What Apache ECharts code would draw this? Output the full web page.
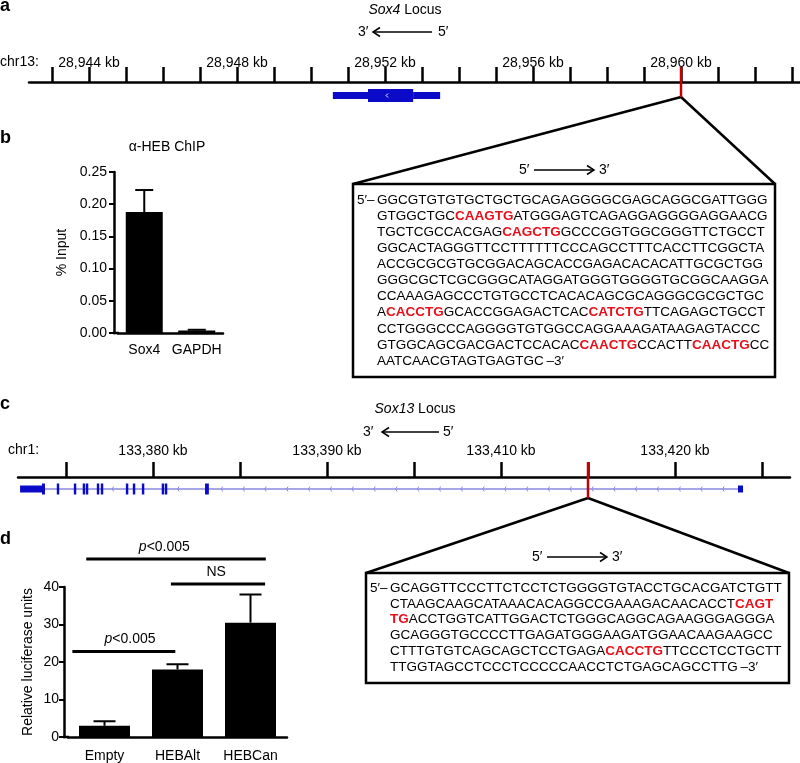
<!DOCTYPE html>
<html>
<head>
<meta charset="utf-8">
<script src="https://cdn.jsdelivr.net/npm/echarts@6/dist/echarts.min.js"></script>
<style>
  html, body { margin: 0; background: #fff; }
  #main { width: 800px; height: 763px; }
</style>
</head>
<body>
<div id="main"></div>
<script>
// ---------- data ----------
// a: Sox4 locus, chr13 (kb)
const sox4TickKb = [28943, 28944, 28945, 28946, 28947, 28948, 28949, 28950, 28951, 28952, 28953,
  28954, 28955, 28956, 28957, 28958, 28959, 28960, 28961, 28962, 28963];
const sox4LabelKb = [28944, 28948, 28952, 28956, 28960];
// [start, end, coding?]
const sox4Gene = [
  [28950.59, 28951.54, 0],
  [28951.54, 28952.76, 1],
  [28952.76, 28953.49, 0]
];
const sox4SiteKb = 28960;

// b: alpha-HEB ChIP
const chipCats = ['Sox4', 'GAPDH'];
const chipMean = [0.188, 0.004];
const chipErr = [0.034, 0.001];

// c: Sox13 locus, chr1 (kb, as drawn)
const sox13TickKb = [133375, 133380, 133385, 133390, 133395, 133400, 133405, 133410, 133415];
const sox13LabelKb = [133380, 133390, 133400, 133410];
const sox13LabelText = ['133,380 kb', '133,390 kb', '133,410 kb', '133,420 kb'];
// [start, end, kind]  kind 0 = transcript line, 1 = UTR block, 2 = exon
const sox13Gene = [
  [133372.36, 133413.74, 0],
  [133372.36, 133373.79, 1],
  [133413.62, 133413.91, 1],
  [133373.62, 133373.79, 2],
  [133374.47, 133374.61, 2],
  [133375.45, 133375.59, 2],
  [133375.96, 133376.10, 2],
  [133376.14, 133376.28, 2],
  [133376.77, 133376.91, 2],
  [133377.00, 133377.14, 2],
  [133378.44, 133378.58, 2],
  [133378.84, 133378.98, 2],
  [133379.36, 133379.50, 2],
  [133380.50, 133380.64, 2],
  [133380.68, 133380.82, 2],
  [133382.99, 133383.21, 2]
];
const sox13SiteKb = 133405;

// d: luciferase
const lucCats = ['Empty', 'HEBAlt', 'HEBCan'];
const lucMean = [3.0, 18.0, 30.5];
const lucErr = [1.2, 1.4, 7.5];
// comparison bars: category span (fractional index), level, label position
const lucSig = [
  { from: -0.25, to: 2.21, level: 47.5, at: 0.82, label: '{i|p}<0.005' },
  { from: 0.91, to: 2.20, level: 40.8, at: 1.53, label: 'NS' },
  { from: -0.44, to: 0.97, level: 22.8, at: 0.35, label: '{i|p}<0.005' }
];

// sequences, motifs in [ ]
const seqSox4 = [
  'GGCGTGTGTGCTGCTGCAGAGGGGCGAGCAGGCGATTGGG',
  'GTGGCTGC[CAAGTG]ATGGGAGTCAGAGGAGGGGAGGAACG',
  'TGCTCGCCACGAG[CAGCTG]GCCCGGTGGCGGGTTCTGCCT',
  'GGCACTAGGGTTCCTTTTTTCCCAGCCTTTCACCTTCGGCTA',
  'ACCGCGCGTGCGGACAGCACCGAGACACACATTGCGCTGG',
  'GGGCGCTCGCGGGCATAGGATGGGTGGGGTGCGGCAAGGA',
  'CCAAAGAGCCCTGTGCCTCACACAGCGCAGGGCGCGCTGC',
  'A[CACCTG]GCACCGGAGACTCAC[CATCTG]TTCAGAGCTGCCT',
  'CCTGGGCCCAGGGGTGTGGCCAGGAAAGATAAGAGTACCC',
  'GTGGCAGCGACGACTCCACAC[CAACTG]CCACTT[CAACTG]CC',
  'AATCAACGTAGTGAGTGC\u2009\u20133\u2032'
];
const seqSox13 = [
  'GCAGGTTCCCTTCTCCTCTGGGGTGTACCTGCACGATCTGTT',
  'CTAAGCAAGCATAAACACAGGCCGAAAGACAACACCT[CAGT]',
  '[TG]ACCTGGTCATTGGACTCTGGGCAGGCAGAAGGGAGGGA',
  'GCAGGGTGCCCCTTGAGATGGGAAGATGGAACAAGAAGCC',
  'CTTTGTGTCAGCAGCTCCTGAGA[CACCTG]TTCCCTCCTGCTT',
  'TTGGTAGCCTCCCTCCCCCAACCTCTGAGCAGCCTTG\u2009\u20133\u2032'
];

// ---------- style ----------
const FONT = '"Liberation Sans", Arial, Helvetica, sans-serif';
const BLACK = '#000';
const SITE_RED = '#c40000';
const MOTIF_RED = '#e8101a';
const GENE_BLUE = '#0a0ac8';
const INTRON_BLUE = '#8a8ae0';
const axisText = { color: BLACK, fontSize: 14, fontFamily: FONT };

let chart = echarts.init(document.getElementById('main'));

function locusAxis(grid, min, max, ticks, labels, fmt, margin) {
  return {
    gridIndex: grid, type: 'value', position: 'top', min: min, max: max,
    axisLine: { onZero: false, lineStyle: { color: BLACK, width: 2.5 } },
    axisTick: { show: true, inside: false, length: 15, customValues: ticks, lineStyle: { color: BLACK, width: 2.5 } },
    axisLabel: Object.assign({ customValues: labels, formatter: fmt, margin: margin }, axisText),
    splitLine: { show: false }
  };
}

function barXAxis(grid, cats, margin) {
  return {
    gridIndex: grid, type: 'category', data: cats,
    axisLine: { lineStyle: { color: BLACK, width: 2.5 } },
    axisTick: { alignWithLabel: true, length: 5, lineStyle: { color: BLACK, width: 2 } },
    axisLabel: Object.assign({ margin: margin, interval: 0, hideOverlap: false }, axisText)
  };
}

function barYAxis(grid, max, interval, fmt, name, nameGap, margin) {
  return {
    gridIndex: grid, type: 'value', min: 0, max: max, interval: interval, offset: 4,
    name: name, nameLocation: 'middle', nameGap: nameGap, nameRotate: 90,
    nameTextStyle: { color: BLACK, fontSize: 14, fontFamily: FONT },
    axisLine: { show: true, lineStyle: { color: BLACK, width: 2.5 } },
    axisTick: { show: true, length: 5, lineStyle: { color: BLACK, width: 2 } },
    axisLabel: Object.assign({ formatter: fmt, margin: margin }, axisText),
    splitLine: { show: false }
  };
}

// error bar drawn upward from the bar top
function errorBar(capHalf) {
  return function (params, api) {
    const base = api.coord([api.value(0), api.value(1)]);
    const top = api.coord([api.value(0), api.value(1) + api.value(2)]);
    const st = { stroke: BLACK, lineWidth: 2 };
    return {
      type: 'group', children: [
        { type: 'line', shape: { x1: base[0], y1: base[1], x2: top[0], y2: top[1] }, style: st },
        { type: 'line', shape: { x1: top[0] - capHalf, y1: top[1], x2: top[0] + capHalf, y2: top[1] }, style: st }
      ]
    };
  };
}

// Sox4 gene model (y value = px below the axis line)
function sox4Item(params, api) {
  const a = api.coord([api.value(0), 13.5]);
  const b = api.coord([api.value(1), 13.5]);
  const h = api.value(2) ? 13 : 7;
  const children = [{ type: 'rect', shape: { x: a[0], y: a[1] - h / 2, width: b[0] - a[0], height: h }, style: { fill: GENE_BLUE } }];
  if (api.value(2)) {
    const m = (a[0] + b[0]) / 2 - 4;
    children.push({ type: 'polyline', shape: { points: [[m + 1.5, a[1] - 2], [m - 0.5, a[1]], [m + 1.5, a[1] + 2]] }, style: { stroke: '#fff', lineWidth: 1, fill: null } });
  }
  return { type: 'group', children: children };
}

// Sox13 gene model
function sox13Item(params, api) {
  const kind = api.value(2);
  const a = api.coord([api.value(0), 12]);
  const b = api.coord([api.value(1), 12]);
  if (kind === 0) {
    const exonPx = sox13Gene.filter(g => g[2] !== 0).map(g => [api.coord([g[0], 12])[0], api.coord([g[1], 12])[0]]);
    const children = [{ type: 'line', shape: { x1: a[0], y1: a[1], x2: b[0], y2: b[1] }, style: { stroke: INTRON_BLUE, lineWidth: 1.5 } }];
    for (let x = b[0] - 17; x > a[0]; x -= 21.8) {
      if (exonPx.some(e => x > e[0] - 6.5 && x < e[1] + 6.5)) continue;
      children.push({ type: 'polyline', shape: { points: [[x + 1, a[1] - 2.5], [x - 0.5, a[1]], [x + 1, a[1] + 2.5]] }, style: { stroke: INTRON_BLUE, lineWidth: 1, fill: null } });
    }
    return { type: 'group', children: children };
  }
  const h = kind === 1 ? 7 : 11;
  const w = Math.max(b[0] - a[0], 2);
  return { type: 'rect', shape: { x: a[0], y: a[1] - h / 2, width: w, height: h }, style: { fill: GENE_BLUE } };
}

let option = {
  animation: false,
  backgroundColor: '#fff',
  textStyle: { fontFamily: FONT },
  grid: [
    { left: 29, top: 82, width: 771, height: 30 },
    { left: 118, top: 172, width: 105, height: 161 },
    { left: 18, top: 477, width: 772, height: 30 },
    { left: 68, top: 587, width: 219, height: 150 }
  ],
  xAxis: [
    locusAxis(0, 28942.378, 28963.216, sox4TickKb, sox4LabelKb, v => v.toLocaleString('en-US') + ' kb', 12),
    barXAxis(1, chipCats, 10),
    locusAxis(2, 133372.241, 133416.609, sox13TickKb, sox13LabelKb, v => sox13LabelText[sox13LabelKb.indexOf(Math.round(v))] || '', 19),
    barXAxis(3, lucCats, 12)
  ],
  yAxis: [
    { gridIndex: 0, type: 'value', min: 0, max: 30, inverse: true, show: false },
    barYAxis(1, 0.25, 0.05, v => v.toFixed(2), '% Input', 45, 7),
    { gridIndex: 2, type: 'value', min: 0, max: 30, inverse: true, show: false },
    barYAxis(3, 40, 10, v => String(v), 'Relative luciferase units', 29, 5)
  ],
  series: [
    { type: 'custom', xAxisIndex: 0, yAxisIndex: 0, data: sox4Gene, encode: { x: [0, 1] }, renderItem: sox4Item, clip: false },
    { type: 'bar', xAxisIndex: 1, yAxisIndex: 1, data: chipMean, barWidth: 37, itemStyle: { color: BLACK } },
    { type: 'custom', xAxisIndex: 1, yAxisIndex: 1, data: chipMean.map((m, i) => [i, m, chipErr[i]]), encode: { x: 0, y: 1 }, renderItem: errorBar(9), z: 3 },
    { type: 'custom', xAxisIndex: 2, yAxisIndex: 2, data: sox13Gene, encode: { x: [0, 1] }, renderItem: sox13Item, clip: false },
    { type: 'bar', xAxisIndex: 3, yAxisIndex: 3, data: lucMean, barWidth: 51, itemStyle: { color: BLACK } },
    { type: 'custom', xAxisIndex: 3, yAxisIndex: 3, data: lucMean.map((m, i) => [i, m, lucErr[i]]), encode: { x: 0, y: 1 }, renderItem: errorBar(11), z: 3 }
  ]
};
chart.setOption(option);

// ---------- annotations ----------
function txt(x, y, text, extra) {
  return {
    type: 'text', x: x, y: y, silent: true, z: 10,
    style: Object.assign({ text: text, fill: BLACK, fontSize: 14, fontFamily: FONT, align: 'left', verticalAlign: 'middle' }, extra || {})
  };
}
function seg(x1, y1, x2, y2, color, w) {
  return { type: 'line', silent: true, z: 10, shape: { x1: x1, y1: y1, x2: x2, y2: y2 }, style: { stroke: color || BLACK, lineWidth: w || 2.5 } };
}
function head(x, y, dir) {
  return { type: 'polyline', silent: true, z: 10, shape: { points: [[x - dir * 7, y - 4.5], [x, y], [x - dir * 7, y + 4.5]] }, style: { stroke: BLACK, lineWidth: 1.5, fill: null } };
}
// "3' <---- 5'"
function leftArrow(x, y, x1, x2, x5) {
  return [txt(x, y, '3\u2032'), seg(x1, y, x2, y, BLACK, 1.5), head(x1, y, -1), txt(x5, y, '5\u2032')];
}
// "5' ----> 3'"
function rightArrow(x, y, x1, x2, x3) {
  return [txt(x, y, '5\u2032'), seg(x1, y, x2, y, BLACK, 1.5), head(x2, y, 1), txt(x3, y, '3\u2032')];
}
const italic = { i: { fontStyle: 'italic', fontSize: 14, fontFamily: FONT, fill: BLACK } };
const motif = { m: { fontWeight: 'bold', fontSize: 13.5, fontFamily: FONT, fill: MOTIF_RED } };
const toRich = s => s.replace(/\[([A-Z]+)\]/g, '{m|$1}');

function seqBox(left, top, right, bottom, lines, firstY, step) {
  const out = [{ type: 'rect', silent: true, z: 9, shape: { x: left, y: top, width: right - left, height: bottom - top }, style: { fill: '#fff', stroke: BLACK, lineWidth: 2.5 } }];
  out.push(txt(left + 4, firstY, '5\u2032\u2013', { fontSize: 13.5 }));
  lines.forEach((l, i) => out.push(txt(left + 24, firstY + i * step, toRich(l), { fontSize: 13.5, rich: motif })));
  return out;
}
// red site tick and the two lines fanning out to the sequence box
function siteZoom(axisIdx, kb, axisY, below, boxL, boxR, boxT) {
  const x = chart.convertToPixel({ xAxisIndex: axisIdx }, kb);
  const apexY = axisY + below;
  return [
    seg(boxL, boxT, x, apexY),
    seg(x, apexY, boxR, boxT),
    seg(x, axisY - 15, x, apexY, SITE_RED, 2.5)
  ];
}

const g = [];
g.push(txt(0, 6, 'a', { fontSize: 18, fontWeight: 'bold' }));
g.push(txt(0, 138, 'b', { fontSize: 18, fontWeight: 'bold' }));
g.push(txt(0, 404, 'c', { fontSize: 18, fontWeight: 'bold' }));
g.push(txt(0, 539, 'd', { fontSize: 18, fontWeight: 'bold' }));

// panel a
g.push(txt(405, 10, '{i|Sox4} Locus', { align: 'center', rich: italic }));
g.push(...leftArrow(358, 32, 373, 432, 438));
g.push(txt(0, 62, 'chr13:'));
g.push(...siteZoom(0, sox4SiteKb, 82, 15, 353, 775, 184));
g.push(...seqBox(353, 184, 775, 377, seqSox4, 200, 16.1));
g.push(...rightArrow(519, 170, 534, 594, 599));

// panel b
g.push(txt(167, 147, '\u03b1-HEB ChIP', { align: 'center' }));
g.push(seg(113, 333, 119, 333));

// panel c
g.push(txt(415, 409, '{i|Sox13} Locus', { align: 'center', rich: italic }));
g.push(...leftArrow(363, 432, 382, 439, 443));
g.push(txt(8, 450, 'chr1:'));
g.push(...siteZoom(2, sox13SiteKb, 477, 21, 366, 789, 573));
g.push(...seqBox(366, 573, 789, 683, seqSox13, 588, 15.8));
g.push(...rightArrow(532, 557, 547, 607, 612));

// panel d
g.push(seg(63, 737, 69, 737));
const c0 = chart.convertToPixel({ xAxisIndex: 3 }, 0);
const c1 = chart.convertToPixel({ xAxisIndex: 3 }, 1);
const catX = f => c0 + f * (c1 - c0);
lucSig.forEach(s => {
  const y = chart.convertToPixel({ yAxisIndex: 3 }, s.level);
  g.push(seg(catX(s.from), y, catX(s.to), y, BLACK, 3));
  g.push(txt(catX(s.at), y - 12, s.label, { align: 'center', rich: italic }));
});

chart.setOption({ graphic: g });
</script>
</body>
</html>
